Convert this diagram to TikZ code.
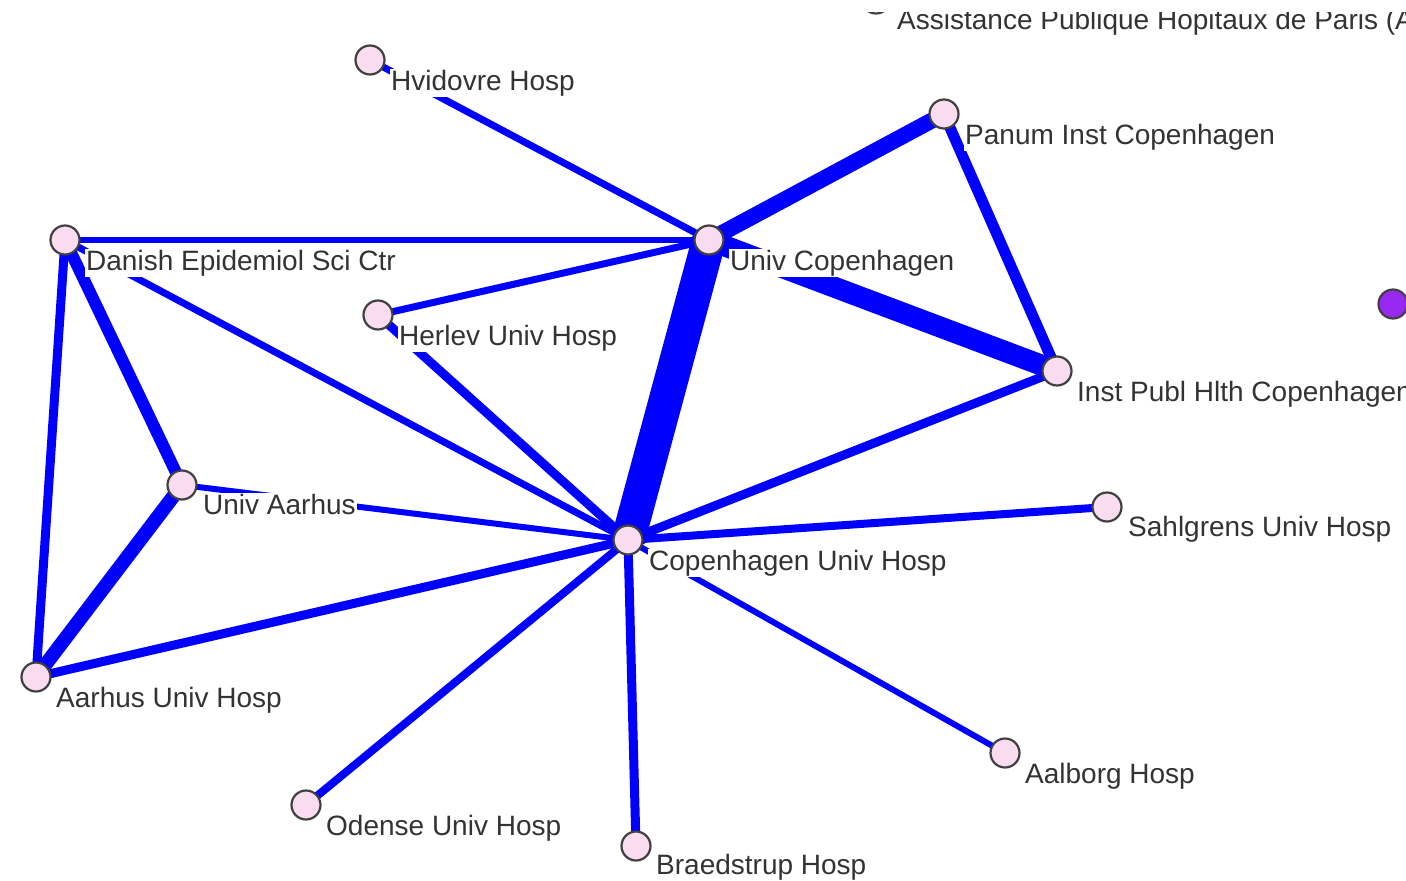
\documentclass[tikz,border=0pt]{standalone}
\usepackage{fontspec}
\setmainfont{Liberation Sans}
\usepackage{xcolor}
\usepackage{tikz}
\usetikzlibrary{backgrounds}

\definecolor{nodepink}{RGB}{250,220,240}
\definecolor{nodepurple}{RGB}{150,40,240}
\definecolor{linkblue}{RGB}{0,0,255}

\begin{document}
\begin{tikzpicture}[x=1pt, y=-1pt,
        inst/.style={circle, draw=black!75, line width=2.2pt, fill=nodepink,
            minimum size=29pt, inner sep=0pt},
        lbl/.style={anchor=base west, fill=white, inner sep=1pt, text=black!80,
            font=\fontsize{28}{30}\selectfont},
        link/.style={draw=linkblue}]
            \useasboundingbox (0,0) rectangle (1406,881);
            \clip (0,12) rectangle (1406,881);

            \node[inst] (aphp) at (876, -1) {};
            \node[inst] (hvid) at (370, 60) {};
            \node[inst] (panum) at (944, 114) {};
            \node[inst] (ucph) at (709, 240) {};
            \node[inst] (dan) at (65, 240) {};
            \node[inst] (herl) at (378, 315) {};
            \node[inst, fill=nodepurple] (purp) at (1393, 304) {};
            \node[inst] (ipub) at (1057, 371) {};
            \node[inst] (uaar) at (182, 485) {};
            \node[inst] (sahl) at (1107, 507) {};
            \node[inst] (cuh) at (628, 540) {};
            \node[inst] (auh) at (36, 677) {};
            \node[inst] (aalb) at (1005, 753) {};
            \node[inst] (odense) at (306, 805) {};
            \node[inst] (braed) at (636, 846) {};

            \node[lbl] (aphp-l) at ([shift={(20,30)}]aphp) {Assistance Publique Hopitaux de Paris (A};
            \node[lbl] (hvid-l) at ([shift={(20,30)}]hvid) {Hvidovre Hosp};
            \node[lbl] (panum-l) at ([shift={(20,30)}]panum) {Panum Inst Copenhagen};
            \node[lbl] (ucph-l) at ([shift={(20,30)}]ucph) {Univ Copenhagen};
            \node[lbl] (dan-l) at ([shift={(20,30)}]dan) {Danish Epidemiol Sci Ctr};
            \node[lbl] (herl-l) at ([shift={(20,30)}]herl) {Herlev Univ Hosp};
            \node[lbl] (ipub-l) at ([shift={(19,30)}]ipub) {Inst Publ Hlth Copenhagen};
            \node[lbl] (uaar-l) at ([shift={(20,29)}]uaar) {Univ Aarhus};
            \node[lbl] (sahl-l) at ([shift={(20,29)}]sahl) {Sahlgrens Univ Hosp};
            \node[lbl] (cuh-l) at ([shift={(20,30)}]cuh) {Copenhagen Univ Hosp};
            \node[lbl] (auh-l) at ([shift={(19,30)}]auh) {Aarhus Univ Hosp};
            \node[lbl] (aalb-l) at ([shift={(19,30)}]aalb) {Aalborg Hosp};
            \node[lbl] (odense-l) at ([shift={(19,30)}]odense) {Odense Univ Hosp};
            \node[lbl] (braed-l) at ([shift={(19,28)}]braed) {Braedstrup Hosp};

            \begin{scope}[on background layer]
                \draw[link, line width=34pt] (ucph.center) -- (cuh.center);
                \draw[link, line width=21pt] (ucph.center) -- (ipub.center);
                \draw[link, line width=16pt] (ucph.center) -- (panum.center);
                \draw[link, line width=11pt] (panum.center) -- (ipub.center);
                \draw[link, line width=7pt] (hvid.center) -- (ucph.center);
                \draw[link, line width=6pt] (dan.center) -- (ucph.center);
                \draw[link, line width=7pt] (herl.center) -- (ucph.center);
                \draw[link, line width=7pt] (dan.center) -- (cuh.center);
                \draw[link, line width=12pt] (dan.center) -- (uaar.center);
                \draw[link, line width=9pt] (dan.center) -- (auh.center);
                \draw[link, line width=14pt] (uaar.center) -- (auh.center);
                \draw[link, line width=6pt] (uaar.center) -- (cuh.center);
                \draw[link, line width=9pt] (herl.center) -- (cuh.center);
                \draw[link, line width=9pt] (ipub.center) -- (cuh.center);
                \draw[link, line width=8pt] (sahl.center) -- (cuh.center);
                \draw[link, line width=9pt] (auh.center) -- (cuh.center);
                \draw[link, line width=6pt] (aalb.center) -- (cuh.center);
                \draw[link, line width=8pt] (odense.center) -- (cuh.center);
                \draw[link, line width=9pt] (braed.center) -- (cuh.center);
            \end{scope}
        \end{tikzpicture}
\end{document}
